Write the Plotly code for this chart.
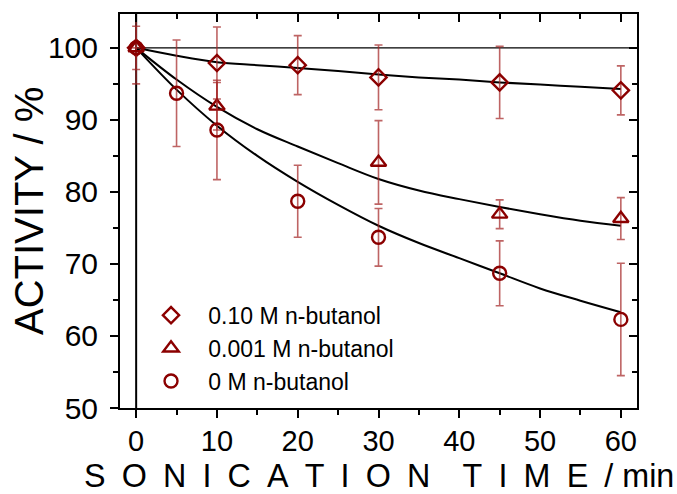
import plotly.graph_objects as go

# ---- data ----
time_d = [0, 10, 20, 30, 45, 60]
act_d = [100, 97.9, 97.6, 95.9, 95.2, 94.1]
err_d = [5.0, 5.0, 4.1, 4.5, 5.0, 3.4]

time_t = [0, 10, 30, 45, 60]
act_t = [100, 91.9, 84.1, 76.9, 76.3]
err_t = [3.0, 3.3, 5.8, 2.0, 2.9]

time_c = [0, 5, 10, 20, 30, 45, 60]
act_c = [100, 93.7, 88.6, 78.7, 73.7, 68.7, 62.3]
err_c = [0, 7.4, 6.9, 5.0, 4.0, 4.5, 7.8]

fit_x = [0, 5, 10, 15, 20, 25, 30, 35, 40, 45, 50, 55, 60]
fit_d = [100, 98.9, 98.0, 97.6, 97.2, 96.8, 96.3, 95.9, 95.6, 95.2, 94.9, 94.6, 94.3]
fit_t = [100, 95.6, 91.8, 88.7, 86.3, 84.0, 81.8, 80.2, 79.0, 77.9, 76.9, 76.0, 75.3]
fit_c = [100, 94.2, 89.2, 85.0, 81.4, 78.2, 75.3, 72.9, 70.8, 68.7, 66.6, 64.9, 63.3]

names = ["0.10 M n-butanol", "0.001 M n-butanol", "0 M n-butanol"]
x_ticks = [0, 10, 20, 30, 40, 50, 60]
y_ticks = [50, 60, 70, 80, 90, 100]

MK = "#8B0000"
EB = "rgba(165,40,40,0.72)"
FONT = "Liberation Sans, Arial, sans-serif"
PAD = "\u2002\u2005"  # extra gap between legend symbol and text

fig = go.Figure()

for fy in (fit_d, fit_t, fit_c):
    fig.add_trace(go.Scatter(x=fit_x, y=fy, mode="lines", line=dict(color="black", width=2, shape="spline"),
                             showlegend=False, hoverinfo="skip"))

series = [
    (time_d, act_d, err_d, "diamond-open", 12.5, names[0]),
    (time_t, act_t, err_t, "triangle-up-open", 13.5, names[1]),
    (time_c, act_c, err_c, "circle-open", 13, names[2]),
]
for xs, ys, es, sym, sz, nm in series:
    fig.add_trace(go.Scatter(
        x=xs, y=ys, mode="markers", name=PAD + nm,
        marker=dict(symbol=sym, size=sz, color=MK, line=dict(color=MK, width=2.4)),
        error_y=dict(type="data", array=es, visible=True, color=EB, thickness=1.6, width=4),
    ))

# invisible trace to anchor the mirrored axes (top/right, inward ticks)
fig.add_trace(go.Scatter(x=time_d, y=act_d, xaxis="x2", yaxis="y2", mode="markers",
                         marker=dict(opacity=0), showlegend=False, hoverinfo="skip"))

fig.add_shape(type="line", xref="x", yref="paper", x0=0, x1=0, y0=0, y1=1,
              line=dict(color="black", width=2), layer="below")
fig.add_shape(type="line", xref="paper", yref="y", x0=(0 + 2) / 64, x1=1, y0=100, y1=100,
              line=dict(color="black", width=1.2), layer="below")

axis_common = dict(showgrid=False, zeroline=False, showline=True, linecolor="black", linewidth=2)

fig.update_layout(
    width=677, height=494,
    margin=dict(l=120, r=40, t=14, b=86),
    paper_bgcolor="white", plot_bgcolor="white",
    font=dict(family=FONT, color="black"),
    xaxis=dict(range=[-2, 62], tickvals=x_ticks, ticks="outside", ticklen=8, tickwidth=1.5,
               tickcolor="black", tickfont=dict(size=29, family=FONT),
               minor=dict(dtick=5, tick0=0, ticks="outside", ticklen=5, tickwidth=1.5, tickcolor="black"),
               ticklabelstandoff=-2, **axis_common),
    yaxis=dict(range=[50, 104.7], tickvals=y_ticks, ticks="outside", ticklen=8, tickwidth=1.5,
               tickcolor="black", tickfont=dict(size=30, family=FONT),
               minor=dict(dtick=5, tick0=50, ticks="outside", ticklen=5, tickwidth=1.5, tickcolor="black"),
               ticklabelstandoff=6, **axis_common),
    xaxis2=dict(overlaying="x", side="top", range=[-2, 62], tickvals=x_ticks, ticks="inside", ticklen=8,
                tickwidth=1.5, tickcolor="black", showticklabels=False,
                minor=dict(dtick=5, tick0=0, ticks="inside", ticklen=5, tickwidth=1.5, tickcolor="black"),
                **axis_common),
    yaxis2=dict(overlaying="y", side="right", range=[50, 104.7], tickvals=y_ticks, ticks="inside", ticklen=8,
                tickwidth=1.5, tickcolor="black", showticklabels=False,
                minor=dict(dtick=5, tick0=50, ticks="inside", ticklen=5, tickwidth=1.5, tickcolor="black"),
                **axis_common),
    legend=dict(x=0.06, y=0.29, xanchor="left", yanchor="top", bgcolor="rgba(0,0,0,0)",
                font=dict(size=23, family=FONT, color="black"), itemsizing="trace"),
    showlegend=True,
)

sp = "\u2002"
xtitle = sp.join("SONICATION") + sp + sp + sp.join("TIME") + sp + "/ min"
fig.add_annotation(text=xtitle, xref="paper", yref="paper", x=0.5, y=0, yshift=-68,
                   xanchor="center", yanchor="middle", showarrow=False,
                   font=dict(size=32.3, family=FONT, color="black"))
fig.add_annotation(text="ACTIVITY / %", xref="paper", yref="paper", x=0, y=0.5, xshift=-91,
                   xanchor="center", yanchor="middle", textangle=-90, showarrow=False,
                   font=dict(size=40, family=FONT, color="black"))

fig.write_html("out.html", config={"displayModeBar": False},
               post_script="document.body.style.margin='0';document.body.style.padding='0';")
